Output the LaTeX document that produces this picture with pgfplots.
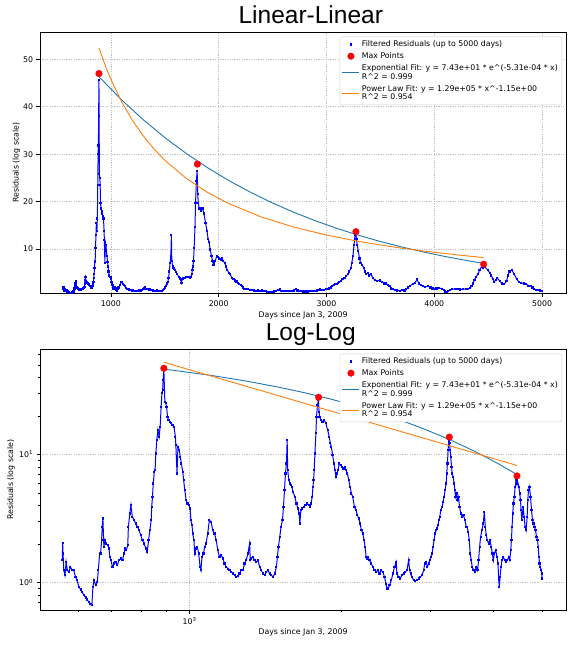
\documentclass[border=0pt]{standalone}
\usepackage{fontspec}
\setmainfont{DejaVu Sans}
\newfontfamily\titlefont{Liberation Sans}
\usepackage{pgfplots}
\pgfplotsset{compat=1.18}
\usepackage{pgfplotstable}
\definecolor{mplblue}{HTML}{1F77B4}
\definecolor{mplorange}{HTML}{FF7F0E}

\pgfplotstableread{
x y
559 1.494
560 2.041
561 1.685
563 1.248
566 1.141
569 1.450
572 1.248
576 1.211
580 1.326
585 1.248
589 1.248
594 1.107
598 1.043
603 0.925
608 0.882
612 0.846
617 0.796
622 0.764
626 0.737
631 0.706
636 0.685
640 0.665
643 0.925
646 1.043
651 0.953
656 1.012
659 1.248
663 1.685
666 1.685
669 2.142
671 2.722
673 3.162
676 1.899
679 2.142
683 2.017
688 1.958
692 1.843
695 1.586
698 1.494
703 1.326
708 1.407
713 1.450
719 1.366
724 1.494
730 1.540
736 1.494
741 1.685
745 1.843
749 1.789
754 1.958
756 2.722
761 3.460
765 4.019
770 3.258
776 3.069
782 2.890
788 2.722
794 2.564
800 2.343
806 2.142
812 2.017
819 1.843
824 1.736
829 2.142
834 2.564
839 3.069
841 3.901
844 4.670
847 5.93
851 7.32
854 7.54
857 10.18
861 12.94
865 15.49
870 13.74
874 16.45
878 23.57
881 29.97
884 31.82
886 38.09
889 45.7
893 25.79
897 25.03
900 23.57
904 19.69
908 18.55
914 17.99
919 17.47
925 16.95
931 16.45
937 13.74
939 11.83
944 7.10
948 11.48
954 10.81
958 9.59
963 8.50
969 7.32
973 6.30
978 5.264
984 4.398
990 4.142
996 4.019
1002 3.785
1006 3.069
1011 2.805
1014 2.414
1020 2.142
1023 1.685
1030 1.843
1036 1.899
1042 1.685
1049 1.326
1053 1.248
1058 1.586
1065 1.685
1071 1.899
1078 2.017
1086 2.414
1094 3.069
1103 2.978
1111 2.564
1120 2.414
1129 2.142
1137 1.789
1146 1.586
1155 1.635
1164 1.540
1173 1.407
1182 1.326
1191 1.286
1200 1.248
1209 1.211
1218 1.176
1228 1.141
1237 1.107
1247 1.120
1256 1.176
1266 1.248
1275 1.248
1285 1.407
1295 1.494
1305 1.685
1315 2.017
1319 1.494
1325 1.540
1335 1.586
1345 1.494
1356 1.450
1366 1.494
1377 1.326
1387 1.248
1398 1.176
1409 1.141
1419 1.211
1430 1.248
1441 1.176
1452 1.141
1463 1.107
1475 1.176
1486 1.326
1493 1.586
1500 1.899
1509 2.274
1518 2.722
1528 3.069
1535 3.901
1542 5.264
1549 7.10
1556 8.50
1561 12.94
1565 7.54
1573 6.30
1580 5.93
1587 5.76
1594 5.59
1604 5.11
1616 4.670
1629 4.142
1639 3.785
1649 3.460
1654 2.890
1662 3.674
1672 3.785
1685 3.901
1698 4.019
1711 4.142
1724 4.019
1732 3.901
1742 4.142
1750 4.670
1756 5.59
1761 6.30
1766 7.54
1772 10.18
1780 14.59
1785 19.69
1793 24.3
1800 26.5
1806 21.54
1810 19.69
1821 18.55
1835 17.99
1849 18.55
1863 17.47
1878 15.49
1892 13.74
1901 12.19
1910 11.48
1921 9.88
1933 8.50
1942 7.54
1951 6.69
1960 7.10
1969 7.54
1981 8.50
1993 8.25
2005 8.01
2018 7.77
2030 8.01
2042 7.54
2055 7.10
2068 6.30
2080 5.59
2093 4.958
2106 4.670
2122 3.901
2138 3.674
2151 3.357
2165 3.162
2178 2.890
2191 2.564
2205 2.414
2218 2.142
2228 1.899
2239 1.586
2249 1.540
2259 1.586
2273 1.494
2291 1.407
2308 1.326
2326 1.248
2344 1.211
2362 1.248
2380 1.176
2398 1.248
2416 1.211
2435 1.107
2450 0.982
2461 0.898
2476 0.898
2491 0.953
2511 1.043
2530 1.176
2549 1.326
2569 1.450
2576 1.176
2596 1.107
2616 1.075
2636 1.141
2657 1.176
2677 1.211
2697 1.248
2718 1.494
2731 1.248
2743 1.176
2760 1.107
2781 1.043
2802 1.030
2824 1.043
2846 1.075
2867 1.107
2889 1.141
2912 1.248
2925 1.407
2943 1.450
2961 1.326
2979 1.407
2993 1.494
3007 1.586
3025 1.685
3039 1.899
3053 2.142
3067 2.414
3081 2.564
3095 2.642
3109 2.805
3119 3.069
3133 3.258
3148 3.674
3167 3.901
3182 4.268
3196 4.670
3211 5.264
3226 5.93
3235 7.10
3245 8.50
3255 10.81
3265 12.94
3272 13.3
3278 12.19
3285 10.81
3295 9.59
3306 8.01
3316 7.10
3331 6.69
3346 5.93
3357 5.264
3367 4.670
3382 4.958
3398 4.398
3414 4.670
3429 3.901
3450 3.460
3471 3.258
3493 3.357
3514 3.069
3536 2.722
3552 2.722
3568 2.488
3585 2.142
3601 1.685
3618 1.494
3634 1.326
3657 1.248
3679 1.211
3702 1.326
3724 1.248
3741 1.494
3759 1.899
3776 2.274
3799 2.564
3822 2.890
3840 3.565
3858 2.722
3875 2.343
3893 2.142
3917 2.017
3941 2.142
3965 1.899
3983 1.685
4002 1.494
4020 1.685
4045 1.789
4070 1.586
4088 1.407
4101 1.043
4113 0.925
4126 1.107
4145 1.326
4164 1.494
4189 1.586
4215 1.494
4241 1.450
4267 1.494
4293 1.586
4313 1.494
4333 1.789
4346 2.142
4359 2.722
4373 3.460
4386 4.142
4406 4.670
4420 5.59
4440 6.30
4453 5.93
4458 6.6
4465 6.30
4495 5.59
4515 4.958
4529 4.398
4543 3.674
4557 3.069
4571 3.460
4585 3.901
4606 3.258
4627 2.722
4648 2.564
4670 3.258
4684 4.398
4698 5.264
4720 5.59
4742 4.670
4764 3.674
4785 3.069
4807 2.890
4830 2.722
4852 2.564
4874 2.274
4897 2.142
4912 1.899
4927 1.586
4942 1.407
4957 1.326
4980 1.248
4992 1.176
5000 1.075
}\resid

\pgfplotstableread{
x y
889 47.0
1802 27.9
3273 13.65
4458 6.8
}\maxpts

\pgfplotstableread{
x y
889 46.34
1100 41.43
1300 37.26
1500 33.50
1700 30.13
1900 27.09
2100 24.36
2300 21.91
2500 19.70
2700 17.71
2900 15.93
3100 14.32
3300 12.88
3500 11.58
3700 10.42
3900 9.37
4100 8.42
4300 7.57
4458 6.96
}\expfit

\pgfplotstableread{
x y
889 52.40
950 48.54
1000 45.76
1100 41.01
1200 37.11
1300 33.85
1400 31.09
1500 28.71
1700 24.86
1900 21.88
2100 19.50
2400 16.72
2700 14.60
3000 12.94
3300 11.59
3600 10.49
3900 9.57
4200 8.79
4458 8.20
}\powfit

\pgfplotsset{
  common/.style={
    scale only axis, width=526pt, height=261pt,
    axis line style={black, line width=0.7pt},
    tick align=outside, tick pos=left,
    major tick length=3.5pt, minor tick length=2pt,
    every tick/.style={black, line width=0.5pt},
    grid=major,
    major grid style={black!25, dash pattern=on 1.2pt off 1.2pt, line width=0.5pt},
    /pgf/number format/assume math mode=true,
    ticklabel style={font=\fontsize{7.8}{9}\selectfont, text=black},
    label style={font=\fontsize{7.8}{9}\selectfont},
    xlabel={Days since Jan 3, 2009},
    ylabel={Residuals (log scale)},
    xlabel style={at={(axis description cs:0.5,-0.0858)}, anchor=center},
    every axis title shift=0pt,
    title style={font=\titlefont\fontsize{24.5}{28}\selectfont, at={(axis description cs:0.5148,1.0345)}, anchor=base, yshift=0pt},
    legend cell align=left,
    legend style={at={(axis description cs:0.9924,0.983)}, anchor=north east,
      draw=black!18, rounded corners=2pt, fill=white,
      font=\fontsize{7.8}{8.7}\selectfont,
      cells={align=left}, row sep=0.6pt, inner xsep=2pt, inner ysep=1.5pt},
  },
  residstyle/.style={blue, line width=1pt, mark=square*, mark size=0.6pt,
    legend image post style={only marks, mark size=0.9pt}},
  maxstyle/.style={only marks, red, mark=*, mark size=3.3pt},
  expstyle/.style={mplblue, line width=0.9pt, no marks},
  powstyle/.style={mplorange, line width=0.9pt, no marks},
}

\begin{document}
\begin{tikzpicture}
\useasboundingbox (0,0) rectangle (575pt,649pt);

\begin{axis}[common,
  at={(40pt,355.7pt)}, anchor=south west,
  title={Linear-Linear},
  xmin=342, xmax=5222, ymin=0.66, ymax=55.7,
  xtick={1000,2000,3000,4000,5000},
  xticklabels={1000,2000,3000,4000,5000},
  ytick={10,20,30,40,50},
  yticklabels={10,20,30,40,50},
  ylabel style={at={(axis description cs:-0.0447,0.5)}, anchor=center},
]
\addplot[residstyle] table[x=x,y=y] {\resid};
\addlegendentry{Filtered Residuals (up to 5000 days)}
\addplot[maxstyle] table[x=x,y=y] {\maxpts};
\addlegendentry{Max Points}
\addplot[expstyle] table[x=x,y=y] {\expfit};
\addlegendentry{Exponential Fit: y = 7.43e+01 * e\textasciicircum(-5.31e-04 * x)\\R\textasciicircum 2 = 0.999}
\addplot[powstyle] table[x=x,y=y] {\powfit};
\addlegendentry{Power Law Fit: y = 1.29e+05 * x\textasciicircum-1.15e+00\\R\textasciicircum 2 = 0.954}
\end{axis}

\begin{axis}[common,
  at={(40pt,38.7pt)}, anchor=south west,
  title={Log-Log},
  xmode=log, ymode=log,
  xmin=505, xmax=5577, ymin=0.608, ymax=66.1,
  xtick={1000}, xticklabels={10\textsuperscript{3}},
  minor xtick={600,700,800,900,2000,3000,4000,5000},
  ytick={1,10}, yticklabels={10\textsuperscript{0},10\textsuperscript{1}},
  minor ytick={0.7,0.8,0.9,2,3,4,5,6,7,8,9,20,30,40,50,60},
  ylabel style={at={(axis description cs:-0.0551,0.5)}, anchor=center},
]
\addplot[residstyle] table[x=x,y=y] {\resid};
\addlegendentry{Filtered Residuals (up to 5000 days)}
\addplot[maxstyle] table[x=x,y=y] {\maxpts};
\addlegendentry{Max Points}
\addplot[expstyle] table[x=x,y=y] {\expfit};
\addlegendentry{Exponential Fit: y = 7.43e+01 * e\textasciicircum(-5.31e-04 * x)\\R\textasciicircum 2 = 0.999}
\addplot[powstyle] table[x=x,y=y] {\powfit};
\addlegendentry{Power Law Fit: y = 1.29e+05 * x\textasciicircum-1.15e+00\\R\textasciicircum 2 = 0.954}
\end{axis}
\end{tikzpicture}
\end{document}
